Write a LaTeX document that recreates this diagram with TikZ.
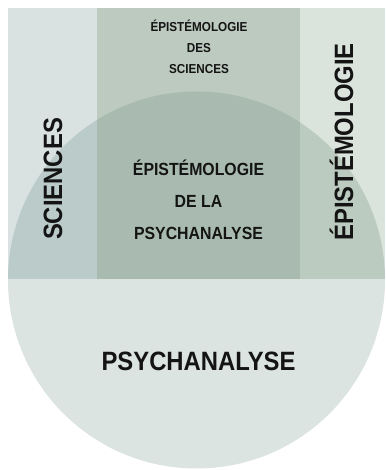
\documentclass[tikz,border=0pt]{standalone}
\usepackage{fontspec}
\newfontfamily\etiqfont[FakeStretch=0.9]{Liberation Sans}
\usetikzlibrary{positioning}
\definecolor{scigris}{HTML}{D9E2E1}
\definecolor{episcivert}{HTML}{BCCAC0}
\definecolor{epigris}{HTML}{DBE3DD}
\definecolor{scipsy}{HTML}{BACBCA}
\definecolor{epipsyvert}{HTML}{A9BBB0}
\definecolor{epipsy}{HTML}{BCCBBF}
\definecolor{psygris}{HTML}{DCE4E1}
\definecolor{encre}{HTML}{141414}
\tikzset{
  grand/.style={
    font=\etiqfont\bfseries\fontsize{26.5}{30}\selectfont,
    text=encre,
    inner sep=0pt
  },
  moyen/.style={
    font=\etiqfont\bfseries\fontsize{17.6}{32}\selectfont,
    text=encre,
    align=center,
    inner sep=0pt
  },
  petit/.style={
    font=\etiqfont\bfseries\fontsize{13}{21}\selectfont,
    text=encre,
    align=center,
    inner sep=0pt
  }
}

\begin{document}
\begin{tikzpicture}[x=1pt,y=1pt]
\useasboundingbox (0,0) rectangle (385,470);
% les trois colonnes
\fill[scigris] (8,190) rectangle (97,462);
\fill[episcivert] (97,190) rectangle (300,462);
\fill[epigris] (300,190) rectangle (385,462);
% le cercle de la psychanalyse, teinte par colonne
\begin{scope}
  \clip (8,190) rectangle (97,462);
  \fill[scipsy] (196.5,190) circle (188.5);
\end{scope}
\begin{scope}
  \clip (97,190) rectangle (300,462);
  \fill[epipsyvert] (196.5,190) circle (188.5);
\end{scope}
\begin{scope}
  \clip (300,190) rectangle (385,462);
  \fill[epipsy] (196.5,190) circle (188.5);
\end{scope}
\begin{scope}
  \clip (0,0) rectangle (385,190);
  \fill[psygris] (196.5,190) circle (188.5);
\end{scope}

\node[grand,rotate=90,anchor=base] (sci) at (62,291) {SCIENCES};
\node[grand,rotate=90,anchor=base] (epi) at (353,328) {ÉPISTÉMOLOGIE};
\node[petit] (episci) at (199,423) {ÉPISTÉMOLOGIE\\DES\\SCIENCES};
\node[moyen] (epipsy) at (198.5,270) {ÉPISTÉMOLOGIE\\DE LA\\PSYCHANALYSE};
\node[grand,anchor=base] (psy) at (198.5,99.3) {PSYCHANALYSE};
\end{tikzpicture}
\end{document}
